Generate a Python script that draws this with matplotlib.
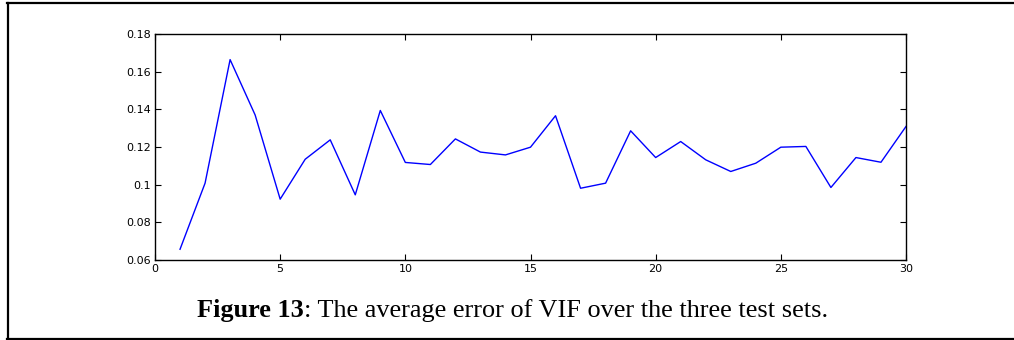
import matplotlib
matplotlib.use("Agg")
import matplotlib.pyplot as plt
from matplotlib.lines import Line2D

x_values = list(range(1, 31))
avg_error = [0.0657, 0.1008, 0.1664, 0.1370, 0.0923, 0.1135, 0.1238, 0.0946,
             0.1394, 0.1118, 0.1107, 0.1243, 0.1173, 0.1158, 0.1199, 0.1366,
             0.0981, 0.1008, 0.1286, 0.1144, 0.1229, 0.1132, 0.1070, 0.1114,
             0.1199, 0.1203, 0.0985, 0.1144, 0.1119, 0.1309]
x_ticks = [0, 5, 10, 15, 20, 25, 30]
y_ticks = [0.06, 0.08, 0.10, 0.12, 0.14, 0.16, 0.18]
y_tick_labels = ["0.06", "0.08", "0.1", "0.12", "0.14", "0.16", "0.18"]

W, H = 1014, 340
fig = plt.figure(figsize=(W/100, H/100), dpi=100)
ax = fig.add_axes([155/W, 1 - 260/H, (906 - 155)/W, (260 - 34)/H])
ax.plot(x_values, avg_error, color="#0000ff", linewidth=1.0)
ax.set_xlim(0, 30)
ax.set_ylim(0.06, 0.18)
ax.set_xticks(x_ticks)
ax.set_xticklabels([str(t) for t in x_ticks])
ax.set_yticks(y_ticks)
ax.set_yticklabels(y_tick_labels)
ax.tick_params(direction="in", length=4, width=0.8, top=True, right=True,
               labelsize=8, pad=3, colors="black")
for s in ax.spines.values():
    s.set_linewidth(1.0)

t1 = fig.text(197/W, 1 - 317/H, "Figure 13", fontsize=18.9,
              family="Liberation Serif", fontweight="bold", va="baseline", ha="left")
fig.canvas.draw()
bb = t1.get_window_extent()
fig.text(bb.x1/W, 1 - 317/H, ": The average error of VIF over the three test sets.",
         fontsize=18.9, family="Liberation Serif", va="baseline", ha="left")

# page frame: top, left, bottom
for xs, ys in [((7/W, 1.0), (1 - 2.5/H, 1 - 2.5/H)),
               ((7.8/W, 7.8/W), (1 - 2.5/H, 0.0)),
               ((7/W, 1.0), (1 - 339/H, 1 - 339/H))]:
    fig.add_artist(Line2D(xs, ys, transform=fig.transFigure, color="black", linewidth=1.6))

fig.savefig("out.png", dpi=100)
